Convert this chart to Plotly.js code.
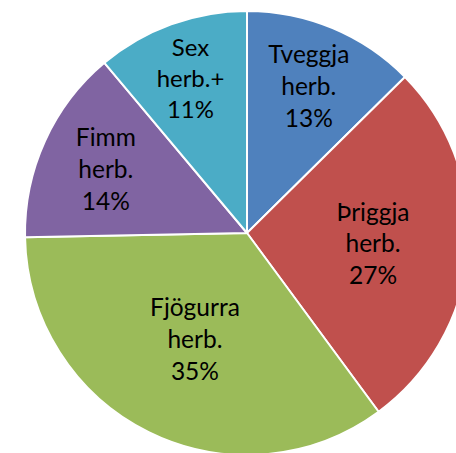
<!DOCTYPE html>
<html><head><meta charset="utf-8">
<script src="https://cdn.plot.ly/plotly-3.0.1.min.js"></script>
<style>html,body{margin:0;padding:0;overflow:hidden;background:#fff}#chart{position:absolute;left:0;top:0;width:494px;height:466px}</style>
</head><body><div id="chart"></div>
<script>
const categories = ["Tveggja<br>herb.", "Þriggja<br>herb.", "Fjögurra<br>herb.", "Fimm<br>herb.", "Sex<br>herb.+"];
const shares = [12.6, 27.3, 34.8, 14.2, 11.1];
const colors = ["#4F81BD", "#C0504D", "#9BBB59", "#8064A2", "#4BACC6"];

Plotly.newPlot("chart", [{
  type: "pie",
  labels: categories,
  values: shares,
  sort: false,
  direction: "clockwise",
  rotation: 0,
  marker: {colors: colors, line: {color: "#FFFFFF", width: 2}},
  texttemplate: "%{label}<br>%{percent:.0%}",
  textposition: "inside",
  insidetextorientation: "horizontal",
  textfont: {family: "Lato, 'Open Sans', sans-serif", size: 24.5, color: "#000000"},
  hoverinfo: "none"
}], {
  width: 494, height: 466,
  margin: {l: 25, r: 25, t: 11, b: 11},
  showlegend: false,
  paper_bgcolor: "#FFFFFF"
}, {staticPlot: true});
</script></body></html>
